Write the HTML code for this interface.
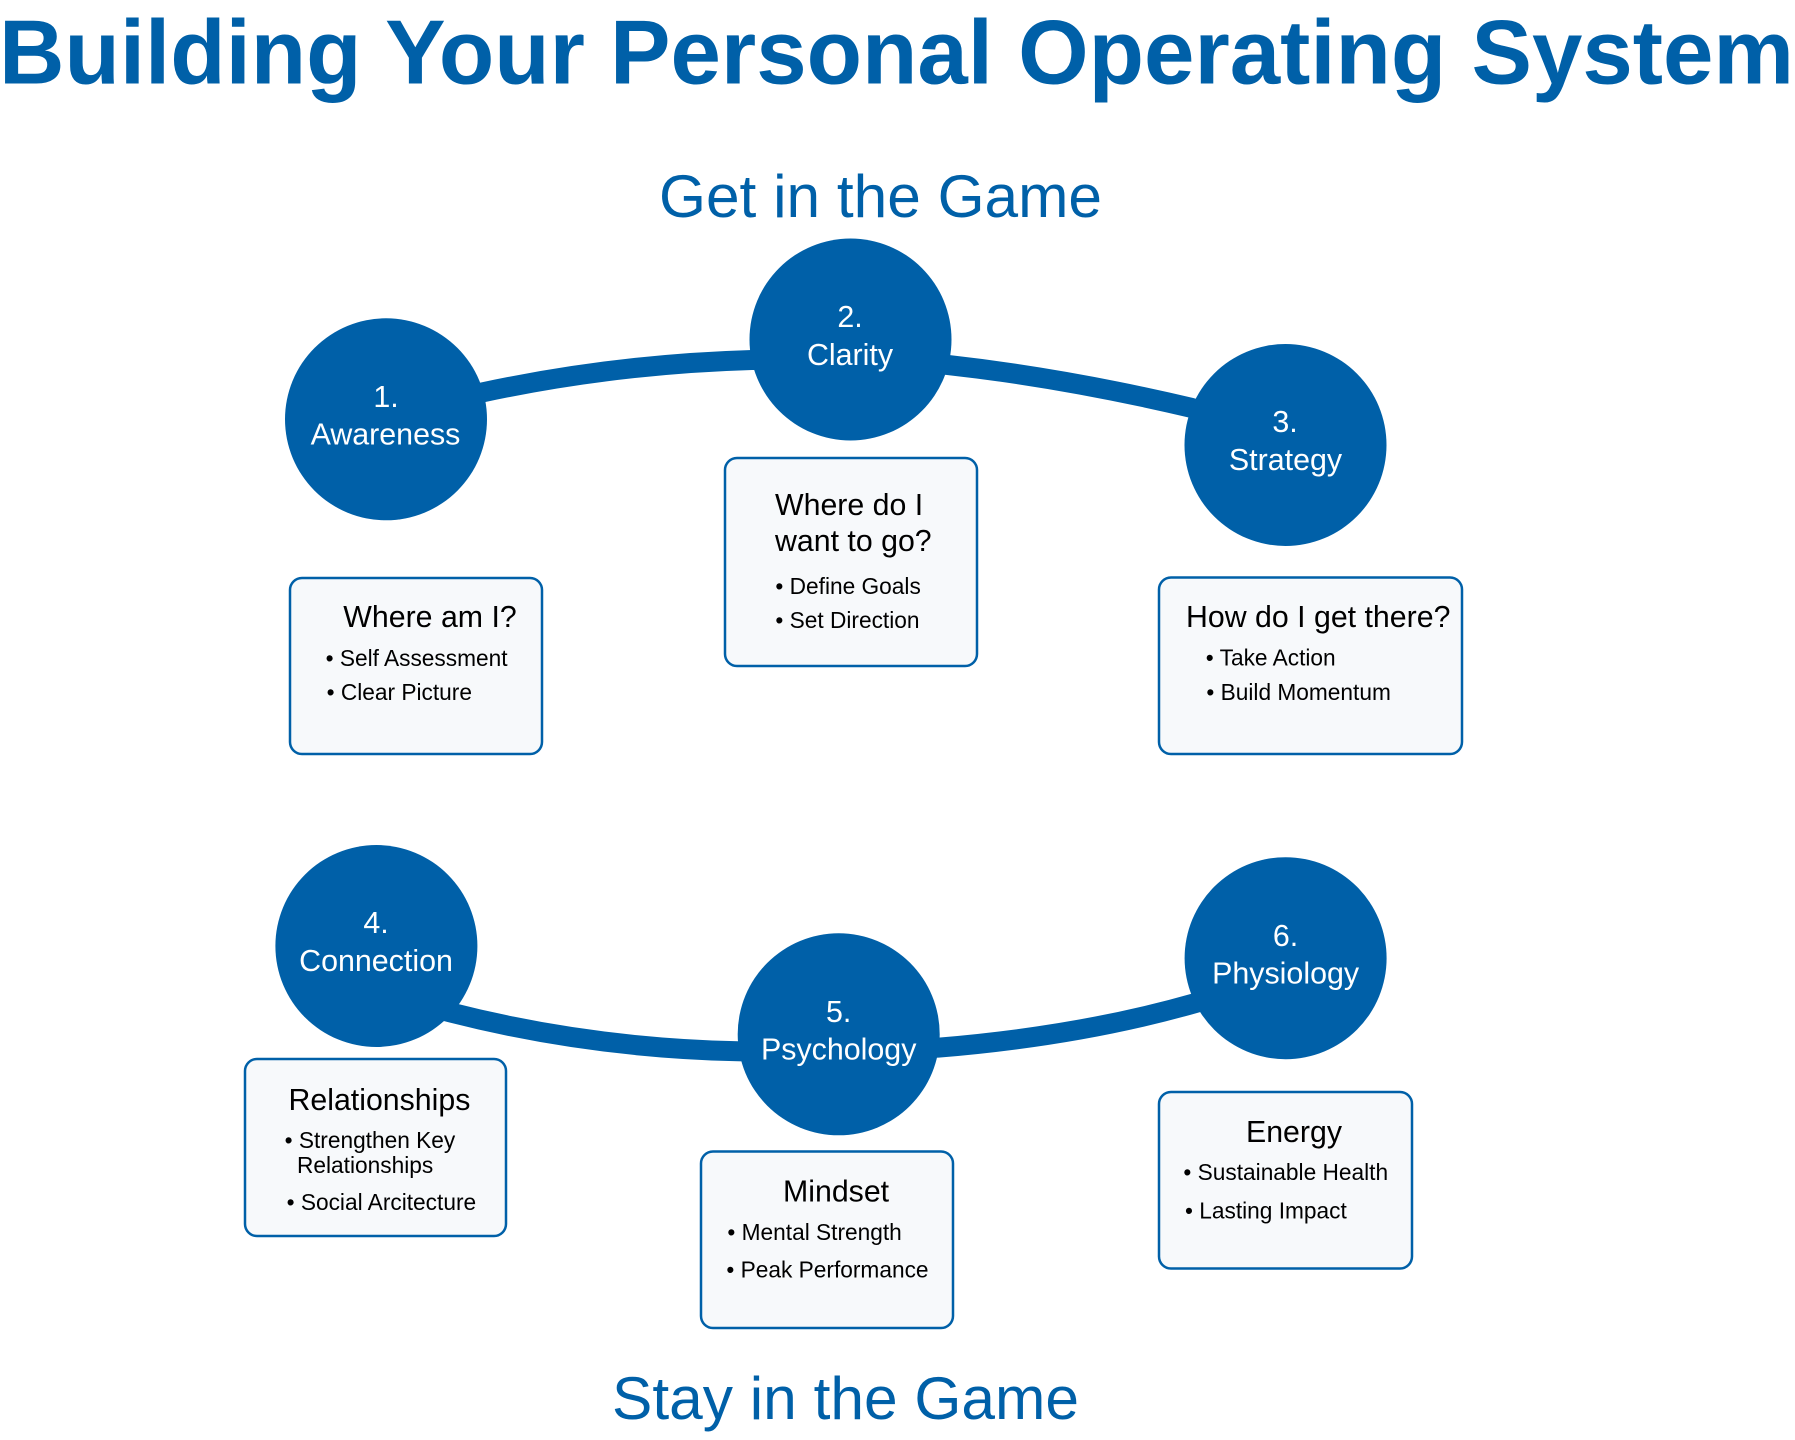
<!DOCTYPE html>
<html lang="en">
<head>
<meta charset="utf-8">
<title>Building Your Personal Operating System</title>
<style>
html,body{margin:0;padding:0;background:#fff;width:1795px;height:1440px;overflow:hidden}
svg{display:block;position:absolute;left:0;top:0}
text{font-family:"Liberation Sans",Arial,sans-serif}
.node{fill:#fff;font-size:30.4px;text-anchor:middle}
.h{fill:#000;font-size:30.3px}
.b{fill:#000;font-size:22.7px}
.box{fill:#f7f9fb;stroke:#0060a8;stroke-width:2.5}
.link{fill:none;stroke:#0060a8;stroke-width:20}
</style>
</head>
<body>
<svg width="1795" height="1440" viewBox="0 0 1795 1440" xmlns="http://www.w3.org/2000/svg">
<text x="-1" y="83.5" font-size="91" font-weight="700" fill="#0060a8" textLength="1795" lengthAdjust="spacingAndGlyphs">Building Your Personal Operating System</text>
<text x="659" y="217" font-size="60" fill="#0060a8" textLength="443" lengthAdjust="spacingAndGlyphs">Get in the Game</text>
<text x="612" y="1419" font-size="60" fill="#0060a8" textLength="467" lengthAdjust="spacingAndGlyphs">Stay in the Game</text>

<path class="link" d="M450 400 L482 392.5 Q615 364 752 360 L780 360"/>
<path class="link" d="M920 362 L948 365 Q1065 378 1192 408 L1220 416"/>
<path class="link" d="M420 1004.6 L452 1012.8 Q590 1048 738 1051.3 L770 1052"/>
<path class="link" d="M910 1049 L938 1047.7 Q1080 1036 1194.7 1003.2 L1220 996"/>

<circle cx="386" cy="419.3" r="101" fill="#0060a8"/>
<circle cx="850.5" cy="339.5" r="101" fill="#0060a8"/>
<circle cx="1285.5" cy="445" r="101" fill="#0060a8"/>
<circle cx="376.4" cy="946" r="101" fill="#0060a8"/>
<circle cx="838.7" cy="1034.3" r="101" fill="#0060a8"/>
<circle cx="1285.6" cy="958.2" r="101" fill="#0060a8"/>

<text class="node" x="386" y="407">1.</text><text class="node" x="385.5" y="444.5">Awareness</text>
<text class="node" x="850" y="327">2.</text><text class="node" x="850" y="365">Clarity</text>
<text class="node" x="1285" y="432">3.</text><text class="node" x="1285.5" y="470">Strategy</text>
<text class="node" x="376" y="933">4.</text><text class="node" x="376" y="971">Connection</text>
<text class="node" x="838.7" y="1022">5.</text><text class="node" x="838.7" y="1059.5">Psychology</text>
<text class="node" x="1285.6" y="946">6.</text><text class="node" x="1285.6" y="983.5">Physiology</text>

<rect class="box" x="290" y="578" width="252" height="176" rx="12"/>
<rect class="box" x="725" y="458" width="252" height="208" rx="12"/>
<rect class="box" x="1159" y="577.5" width="303" height="176.5" rx="12"/>
<rect class="box" x="245" y="1059" width="261" height="177" rx="12"/>
<rect class="box" x="701" y="1151.5" width="252" height="176.5" rx="12"/>
<rect class="box" x="1159" y="1092" width="253" height="176.5" rx="12"/>

<text class="h" x="343.3" y="627">Where am I?</text>
<text class="b" x="325.6" y="666">• Self Assessment</text>
<text class="b" x="326.6" y="700">• Clear Picture</text>

<text class="h" x="775" y="515">Where do I</text>
<text class="h" x="775" y="551">want to go?</text>
<text class="b" x="775.4" y="594">• Define Goals</text>
<text class="b" x="775.4" y="628">• Set Direction</text>

<text class="h" x="1186" y="627">How do I get there?</text>
<text class="b" x="1205.8" y="665.5">• Take Action</text>
<text class="b" x="1206.4" y="700">• Build Momentum</text>

<text class="h" x="288.5" y="1110">Relationships</text>
<text class="b" x="284.6" y="1148">• Strengthen Key</text>
<text class="b" x="297" y="1173">Relationships</text>
<text class="b" x="286.6" y="1210">• Social Arcitecture</text>

<text class="h" x="783" y="1201.5">Mindset</text>
<text class="b" x="727.4" y="1240">• Mental Strength</text>
<text class="b" x="726.4" y="1277.5">• Peak Performance</text>

<text class="h" x="1246" y="1142">Energy</text>
<text class="b" x="1183.4" y="1180">• Sustainable Health</text>
<text class="b" x="1185" y="1218.5">• Lasting Impact</text>
</svg>
</body>
</html>
